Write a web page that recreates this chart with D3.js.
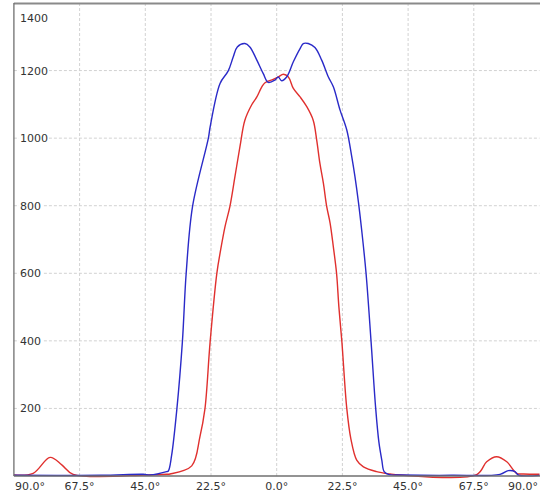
<!DOCTYPE html>
<html>
<head>
<meta charset="utf-8">
<script src="https://cdn.jsdelivr.net/npm/d3@7"></script>
<style>
  body { margin: 0; background: #fff; }
  svg { display: block; font-family: "DejaVu Sans", Verdana, sans-serif; }
</style>
</head>
<body>
<div id="chart"></div>
<script>
// angle (deg) and intensity
const blueAngle = [-90, -60, -45.7, -43.4, -37.7, -37.1, -36.0, -34.2, -32.3, -31.0, -28.8, -23.4, -22.8, -19.4, -16.6, -14.9, -13.5, -10.9, -9.2, -6.8, -4.6, -2.9, -0.6, 0.5, 1.7, 3.4, 5.7, 8.0, 9.1, 10.8, 13.1, 15.4, 17.7, 19.4, 21.7, 24.0, 25.7, 26.8, 28.0, 29.1, 30.6, 32.3, 33.9, 35.0, 36.0, 36.8, 38.5, 42.2, 60, 76.5, 79.3, 81.6, 82.7, 90];
const blueValue = [2, 2, 5, 3, 13, 15, 60, 197, 397, 600, 799, 1000, 1033, 1162, 1199, 1240, 1270, 1280, 1270, 1231, 1191, 1165, 1172, 1181, 1170, 1181, 1226, 1265, 1280, 1280, 1268, 1231, 1181, 1152, 1083, 1024, 945, 886, 810, 728, 600, 400, 200, 100, 47, 13, 4, 3, 2, 5, 16, 13, 3, 2];

const redAngle = [-90, -83.4, -77.6, -73.6, -69.7, -44.6, -37.7, -36.5, -29.1, -26.3, -24.6, -22.8, -20.5, -19.2, -17.7, -16.0, -14.3, -12.6, -10.9, -8.6, -6.8, -5.1, -4.0, -1.2, 0.5, 2.3, 4.0, 5.7, 8.0, 10.3, 12.5, 13.7, 14.8, 16.0, 17.1, 18.3, 19.4, 20.5, 21.3, 22.3, 24.0, 25.4, 27.4, 29.7, 34.2, 38.8, 42.2, 68.5, 71.9, 75.3, 78.8, 82.2, 84.5, 90];
const redValue = [3, 8, 55, 33, 5, 3, 5, 6, 30, 116, 197, 397, 600, 669, 738, 799, 886, 974, 1053, 1098, 1122, 1152, 1164, 1174, 1181, 1189, 1181, 1147, 1122, 1093, 1053, 994, 925, 866, 799, 748, 678, 600, 500, 400, 200, 110, 47, 27, 13, 6, 3, 4, 42, 57, 42, 8, 6, 5];

const xTicks = [-90, -67.5, -45, -22.5, 0, 22.5, 45, 67.5, 90];
const xTickLabels = ["90.0°", "67.5°", "45.0°", "22.5°", "0.0°", "22.5°", "45.0°", "67.5°", "90.0°"];
const yTicks = [200, 400, 600, 800, 1000, 1200, 1400];

const width = 540, height = 492;
const plotLeft = 13.9, plotRight = 539.5, plotTop = 3, plotBottom = 476;

const svg = d3.select("#chart").append("svg")
  .attr("width", width)
  .attr("height", height);

const x = d3.scaleLinear().domain([-90, 90]).range([plotLeft, plotRight]);
const y = d3.scaleLinear().domain([0, 1400]).range([plotBottom, plotTop]);

// grid
svg.append("g").selectAll("line")
  .data(xTicks.slice(1, -1))
  .enter().append("line")
  .attr("x1", d => x(d)).attr("x2", d => x(d))
  .attr("y1", plotTop).attr("y2", plotBottom)
  .attr("stroke", "#d2d2d2")
  .attr("stroke-dasharray", "3,2");

svg.append("g").selectAll("line")
  .data(yTicks.slice(0, -1))
  .enter().append("line")
  .attr("x1", plotLeft).attr("x2", plotRight)
  .attr("y1", d => y(d)).attr("y2", d => y(d))
  .attr("stroke", "#d2d2d2")
  .attr("stroke-dasharray", "3,2");

// curves
const line = d3.line()
  .x(d => x(d[0]))
  .y(d => y(Math.max(0, d[1])))
  .curve(d3.curveCatmullRom.alpha(0.5));

svg.append("path")
  .datum(d3.zip(redAngle, redValue))
  .attr("fill", "none")
  .attr("stroke", "#e0302e")
  .attr("stroke-width", 1.4)
  .attr("d", line);

svg.append("path")
  .datum(d3.zip(blueAngle, blueValue))
  .attr("fill", "none")
  .attr("stroke", "#2a2ac8")
  .attr("stroke-width", 1.4)
  .attr("d", line);

// frame
svg.append("line")
  .attr("x1", plotLeft).attr("x2", width)
  .attr("y1", plotTop + 0.5).attr("y2", plotTop + 0.5)
  .attr("stroke", "#8a8a8a").attr("stroke-width", 2);
svg.append("line")
  .attr("x1", plotLeft).attr("x2", plotLeft)
  .attr("y1", plotTop).attr("y2", plotBottom)
  .attr("stroke", "#6f6f6f").attr("stroke-width", 1.3);
svg.append("line")
  .attr("x1", plotLeft).attr("x2", width)
  .attr("y1", plotBottom).attr("y2", plotBottom)
  .attr("stroke", "#6f6f6f").attr("stroke-width", 1.3);

// y labels (inside the plot, white box behind)
const yl = svg.append("g").selectAll("g")
  .data(yTicks)
  .enter().append("g")
  .attr("transform", d => `translate(20, ${d === 1400 ? 18 : y(d)})`);
yl.append("rect")
  .attr("x", -1).attr("y", -7).attr("width", d => String(d).length * 7 + 2).attr("height", 14)
  .attr("fill", "#fff");
yl.append("text")
  .attr("dy", "0.36em")
  .attr("font-size", 11)
  .attr("fill", "#333")
  .text(d => d);

// x labels
svg.append("g").selectAll("text")
  .data(xTicks)
  .enter().append("text")
  .attr("x", (d, i) => i === 0 ? 15 : i === xTicks.length - 1 ? 538 : x(d))
  .attr("y", 490)
  .attr("text-anchor", (d, i) => i === 0 ? "start" : i === xTicks.length - 1 ? "end" : "middle")
  .attr("font-size", 11)
  .attr("fill", "#333")
  .text((d, i) => xTickLabels[i]);
</script>
</body>
</html>
